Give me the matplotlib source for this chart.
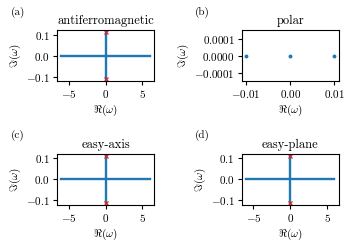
import numpy as np
import matplotlib
matplotlib.use("Agg")
import matplotlib.pyplot as plt
from matplotlib.ticker import FuncFormatter

plt.rcParams["font.family"] = ["cmr10", "DejaVu Serif"]
plt.rcParams["mathtext.fontset"] = "cm"
plt.rcParams["axes.formatter.use_mathtext"] = True
plt.rcParams["font.size"] = 8

# eigenvalue spectra
titles = ["antiferromagnetic", "polar", "easy-axis", "easy-plane"]
letters = ["(a)", "(b)", "(c)", "(d)"]

# real branch (Im = 0), same for a, c, d
real_branch = [-6.0, -5.5, -5.0, -4.5, -4.0, -3.5, -3.0, -2.5, -2.0, -1.5, -1.0,
               -0.5, 0.0, 0.5, 1.0, 1.5, 2.0, 2.5, 3.0, 3.5, 4.0, 4.5, 5.0, 5.5, 6.0]
# imaginary branch (Re = 0)
imag_branch = [-0.111, -0.1, -0.09, -0.08, -0.07, -0.06, -0.05, -0.04, -0.03, -0.02,
               -0.01, 0.0, 0.01, 0.02, 0.03, 0.04, 0.05, 0.06, 0.07, 0.08, 0.09,
               0.1, 0.111]
# unstable modes marked in red
marked_im = [0.111, -0.111]

# polar case: three real eigenvalues
polar_re = [-0.01, 0.0, 0.01]
polar_im = [0.0, 0.0, 0.0]

fig, axes = plt.subplots(2, 2, figsize=(3.5, 2.5), dpi=100)
fig.subplots_adjust(left=0.163, right=0.968, top=0.88, bottom=0.18,
                    wspace=0.9, hspace=1.4)

for i, ax in enumerate(axes.flat):
    if i == 1:
        ax.plot(polar_re, polar_im, "o", color="C0", ms=1.8)
        ax.set_ylim(-0.00015, 0.00015)
        ax.set_yticks([-0.0001, 0.0, 0.0001])
        ax.yaxis.set_major_formatter(
            FuncFormatter(lambda v, p: "$%.4f$" % v if abs(v) > 1e-12 else "$0.0000$"))
        ax.set_xticks([-0.01, 0.0, 0.01])
        ax.xaxis.set_major_formatter(
            FuncFormatter(lambda v, p: "$%.2f$" % v if abs(v) > 1e-12 else "$0.00$"))
    else:
        ax.plot(real_branch, [0.0] * len(real_branch), "-", color="C0", lw=1.7)
        ax.plot([0.0] * len(imag_branch), imag_branch, "-", color="C0", lw=1.7)
        ax.plot([0.0] * len(marked_im), marked_im, "x", color="C3", ms=3, mew=0.9)
        ax.set_yticks([-0.1, 0.0, 0.1])
        ax.set_xticks([-5, 0, 5])
    ax.set_title(titles[i], fontsize=9, pad=4)
    ax.set_xlabel(r"$\Re(\omega)$", fontsize=8, labelpad=2)
    ax.set_ylabel(r"$\Im(\omega)$", fontsize=8, labelpad=2)
    ax.tick_params(labelsize=8, length=3, pad=2)
    ax.text(-0.48, 1.3, letters[i], transform=ax.transAxes, fontsize=8)

fig.savefig("out.png", dpi=100)
